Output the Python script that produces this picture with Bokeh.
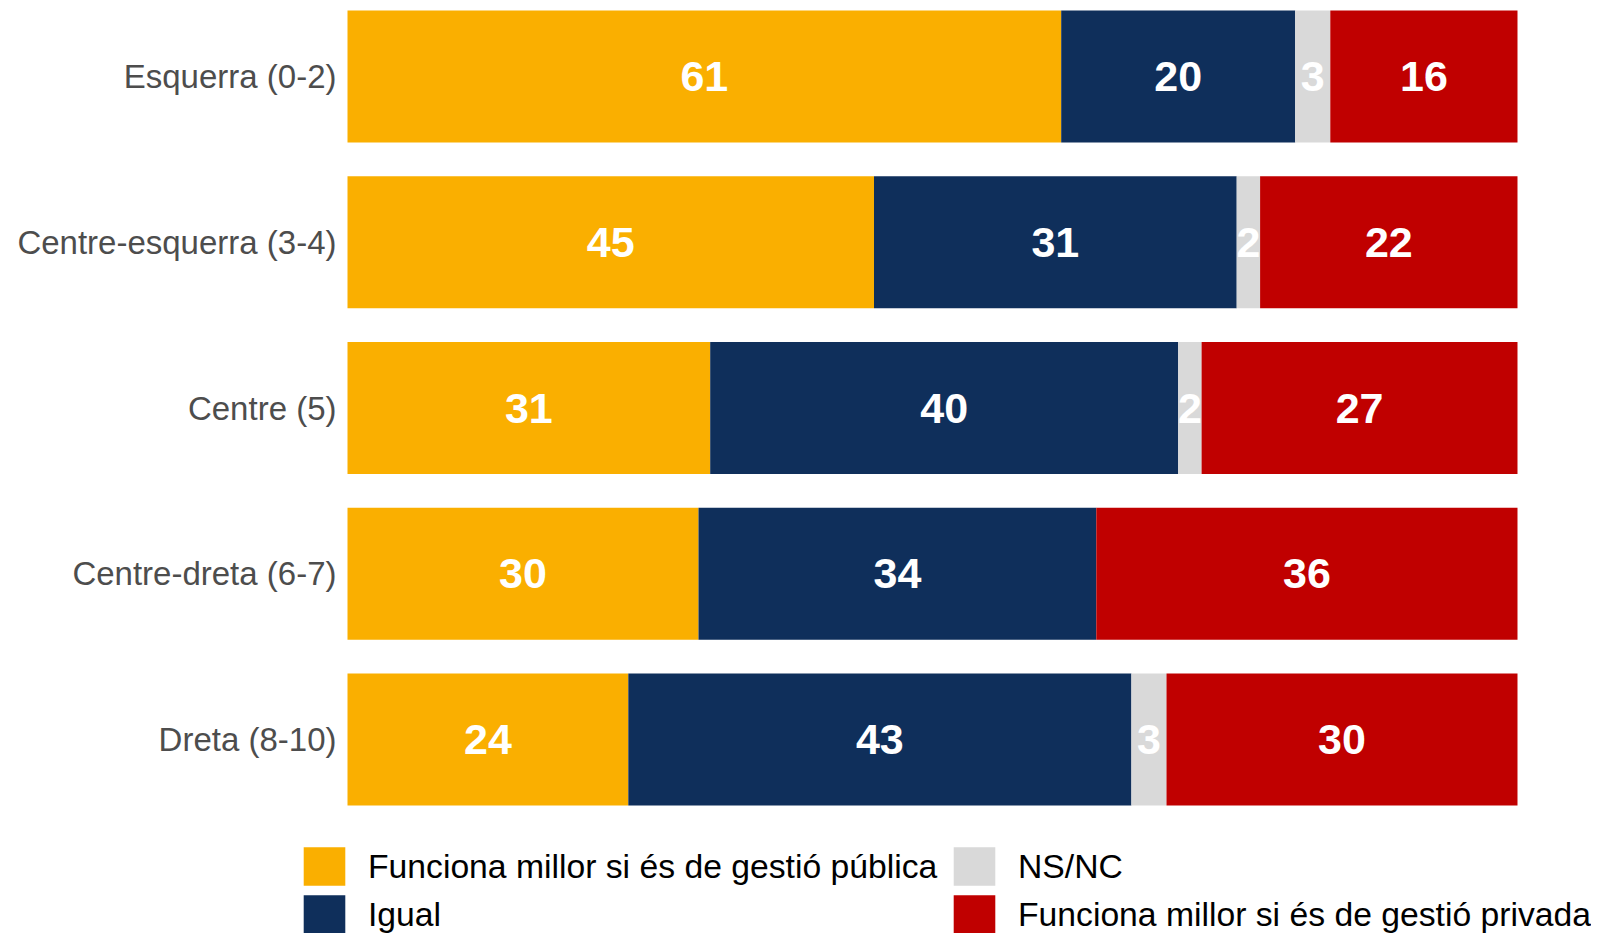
import numpy as np
from bokeh.plotting import figure
from bokeh.models import ColumnDataSource, Range1d, FixedTicker, Legend, LegendItem
from bokeh.core.properties import value
from bokeh.embed import file_html
from bokeh.resources import INLINE

categories = ["Esquerra (0-2)", "Centre-esquerra (3-4)", "Centre (5)",
              "Centre-dreta (6-7)", "Dreta (8-10)"]
series_names = ["Funciona millor si és de gestió pública", "Igual", "NS/NC",
                "Funciona millor si és de gestió privada"]
publica = [61, 45, 31, 30, 24]
igual = [20, 31, 40, 34, 43]
nsnc = [3, 2, 2, 0, 3]
privada = [16, 22, 27, 36, 30]
colors = ["#FAAF00", "#0F2F5B", "#D9D9D9", "#C00000"]

series = [publica, igual, nsnc, privada]
pos = list(range(len(categories)))
FONT = value("Liberation Sans")

p = figure(width=1591, height=933, output_backend="svg", toolbar_location=None,
           x_range=Range1d(-3.761, 106.325), y_range=Range1d(5.1704, -0.4103),
           x_axis_location=None,
           min_border_left=303, min_border_right=0, min_border_top=8,
           min_border_bottom=0)
p.outline_line_color = None
p.xgrid.visible = False
p.ygrid.visible = False

ya = p.yaxis[0]
ya.ticker = FixedTicker(ticks=pos)
ya.major_label_overrides = {i: c for i, c in zip(pos, categories)}
ya.axis_line_color = None
ya.major_tick_line_color = None
ya.minor_tick_line_color = None
ya.major_tick_out = 0
ya.major_tick_in = 0
ya.major_label_standoff = -33
ya.major_label_text_font_size = "33px"
ya.major_label_text_font = "Liberation Sans"
ya.major_label_text_color = "#4D4D4D"

left = np.zeros(len(categories))
bars = []
srcs = []


def add_labels(src):
    p.text(x="mid", y="y", text="lab", source=src, text_align="center",
           text_baseline="middle", text_color="white", text_font_size="43px",
           text_font_style="bold", text_font=FONT)


for k, vals in enumerate(series):
    v = np.array(vals, dtype=float)
    right = left + v
    src = ColumnDataSource(dict(y=pos, left=left, right=right,
                                mid=(left + right) / 2,
                                lab=[str(x) if x > 0 else "" for x in vals]))
    r = p.hbar(y="y", left="left", right="right", height=0.796, source=src,
               fill_color=colors[k], line_color=None)
    bars.append(r)
    srcs.append(src)
    if k == 2:
        add_labels(src)
    left = right

for k in (0, 1, 3):
    add_labels(srcs[k])

legend = Legend(items=[LegendItem(label=series_names[k], renderers=[bars[k]])
                       for k in range(4)],
                location=(-5, -5), orientation="vertical", ncols=2,
                glyph_width=52, glyph_height=48, label_height=48,
                label_width=580, label_standoff=18, spacing=-5, padding=0,
                margin=0, border_line_color=None, background_fill_alpha=0,
                label_text_font_size="33.7px", label_text_font="Liberation Sans",
                label_text_color="black")
p.add_layout(legend, "center")

open("out.html", "w").write(file_html(p, INLINE))
